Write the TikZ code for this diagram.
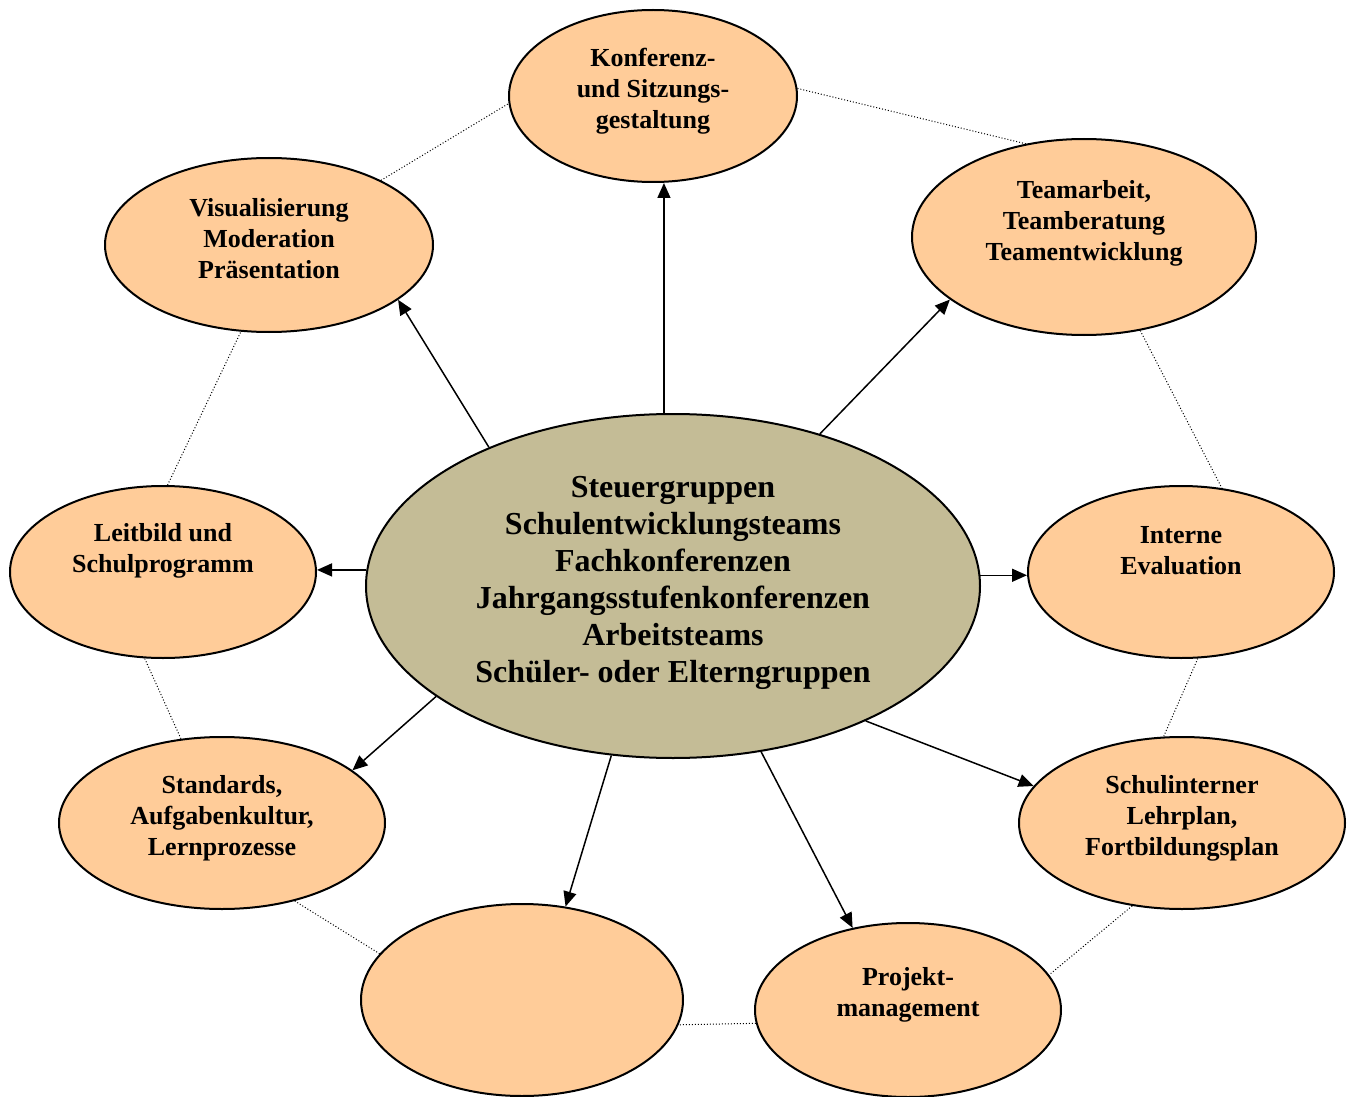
\documentclass[tikz,border=0pt]{standalone}
\usepackage{fontspec}
\setmainfont{Liberation Serif}
\usetikzlibrary{shapes.geometric,arrows.meta}
\definecolor{peach}{HTML}{FFCC99}
\definecolor{khaki}{HTML}{C4BC96}
\tikzset{
	topic/.style={ellipse, draw, line width=1pt, fill=peach, inner sep=0pt},
	hub/.style={ellipse, draw, line width=1pt, fill=khaki, inner sep=0pt},
	topictext/.style={align=center, inner sep=0pt, font=\fontsize{13}{15.5}\selectfont\bfseries},
	hubtext/.style={align=center, inner sep=0pt, font=\fontsize{16}{18.5}\selectfont\bfseries},
	link/.style={->, line width=0.75pt},
	ring/.style={line width=0.5pt, dash pattern=on 0.5pt off 1pt}
}
\begin{document}
\begin{tikzpicture}[x=0.5pt, y=-0.5pt, line join=round, >={Triangle[length=7.5pt,width=6.5pt]}]
	\useasboundingbox (0,0) rectangle (1356,1097);
	% ellipses (size in pt = radius in px)
	\node[hub, minimum width=307pt, minimum height=172pt] (hub) at (673,586) {};
	\node[topic, minimum width=144pt, minimum height=86pt] (konf) at (653,96) {};
	\node[topic, minimum width=172pt, minimum height=98pt] (team) at (1084,237) {};
	\node[topic, minimum width=164pt, minimum height=87pt] (visu) at (269,245) {};
	\node[topic, minimum width=153pt, minimum height=86pt] (leit) at (163,572) {};
	\node[topic, minimum width=153pt, minimum height=86pt] (eval) at (1181,572) {};
	\node[topic, minimum width=163pt, minimum height=86pt] (stand) at (222,823) {};
	\node[topic, minimum width=163pt, minimum height=86pt] (plan) at (1182,823) {};
	\node[topic, minimum width=161pt, minimum height=96pt] (leer) at (522,1000) {};
	\node[topic, minimum width=153pt, minimum height=87pt] (proj) at (908,1010) {};
	% texts
	\node[hubtext] (t-hub) at ([yshift=1.5pt]hub.center) {Steuergruppen\\Schulentwicklungsteams\\Fachkonferenzen\\Jahrgangsstufenkonferenzen\\Arbeitsteams\\Schüler- oder Elterngruppen};
	\node[topictext] (t-konf) at ([yshift=2.5pt]konf.center) {Konferenz-\\und Sitzungs-\\gestaltung};
	\node[topictext] (t-team) at ([yshift=7pt]team.center) {Teamarbeit,\\Teamberatung\\Teamentwicklung};
	\node[topictext] (t-visu) at ([yshift=3pt]visu.center) {Visualisierung\\Moderation\\Präsentation};
	\node[topictext] (t-leit) at ([yshift=10.5pt]leit.center) {Leitbild und\\Schulprogramm};
	\node[topictext] (t-eval) at ([yshift=10.5pt]eval.center) {Interne\\Evaluation};
	\node[topictext] (t-stand) at ([yshift=2.5pt]stand.center) {Standards,\\Aufgabenkultur,\\Lernprozesse};
	\node[topictext] (t-plan) at ([yshift=2.5pt]plan.center) {Schulinterner\\Lehrplan,\\Fortbildungsplan};
	\node[topictext] (t-proj) at ([yshift=7.5pt]proj.center) {Projekt-\\management};
	% arrows from the hub
	\draw[link] (hub.93.3) -- (hub.93.3 |- konf.south);
	\draw[link] (hub.143.2) -- (visu.337.5);
	\draw[link] (hub.46.7) -- (team.205.3);
	\draw[link] (hub.177.8) -- (hub.177.8 -| leit.east);
	\draw[link] (hub.2.2) -- (hub.2.2 -| eval.west);
	\draw[link] (hub.205) -- (stand.22.4);
	\draw[link] (hub.325.6) -- (plan.166);
	\draw[link] (hub.250.5) -- (leer.65.9);
	\draw[link] (hub.298.5) -- (proj.124.8);
	% dotted ring
	\draw[ring] (visu.30.4) -- (konf.183.6);
	\draw[ring] (konf.3.2) -- (team.122);
	\draw[ring] (team.301.4) -- (eval.64.6);
	\draw[ring] (eval.281.3) -- (plan.102.9);
	\draw[ring] (plan.239.7) -- (proj.14.3);
	\draw[ring] (proj.185.6) -- (leer.351.2);
	\draw[ring] (leer.162.5) -- (stand.313.6);
	\draw[ring] (stand.116.3) -- (leit.258.4);
	\draw[ring] (leit.87.3) -- (visu.252.9);
\end{tikzpicture}
\end{document}
